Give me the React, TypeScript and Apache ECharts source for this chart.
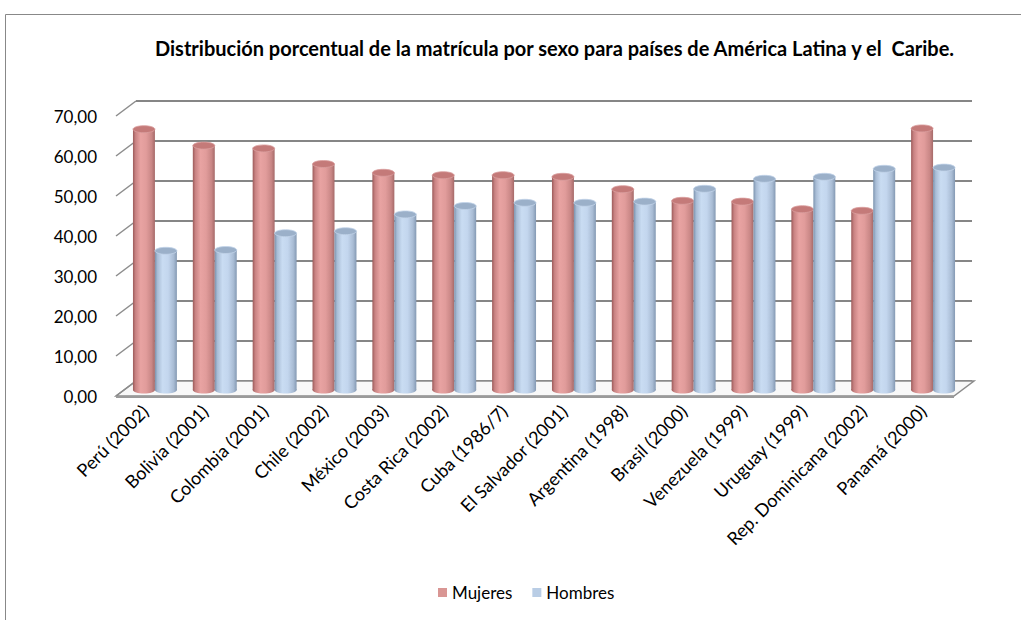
import React, { useEffect, useRef } from "react";
import * as echarts from "echarts";

const categories = [
  "Perú (2002)",
  "Bolivia (2001)",
  "Colombia (2001)",
  "Chile (2002)",
  "México (2003)",
  "Costa Rica (2002)",
  "Cuba (1986/7)",
  "El Salvador (2001)",
  "Argentina (1998)",
  "Brasil (2000)",
  "Venezuela (1999)",
  "Uruguay (1999)",
  "Rep. Dominicana (2002)",
  "Panamá (2000)",
];
const mujeres = [65.2, 61.1, 60.4, 56.5, 54.3, 53.7, 53.7, 53.3, 50.2, 47.3, 47.1, 45.2, 44.8, 65.4];
const hombres = [34.8, 35.0, 39.2, 39.7, 43.9, 46.0, 46.8, 46.8, 47.1, 50.3, 52.8, 53.3, 55.3, 55.6];
const yTicks = [0, 10, 20, 30, 40, 50, 60, 70];

const FONT = "Lato, 'Open Sans', sans-serif";
const DEPTH_X = -20;
const DEPTH_Y = 15;

function grad(stops: [number, string][]) {
  return {
    type: "linear",
    x: 0,
    y: 0,
    x2: 1,
    y2: 0,
    colorStops: stops.map(([offset, color]) => ({ offset, color })),
  };
}

const palettes = {
  m: {
    body: [
      [0, "#9c5b5a"],
      [0.12, "#c98383"],
      [0.35, "#e8a3a2"],
      [0.6, "#e19c9b"],
      [0.85, "#c98786"],
      [1, "#a66a69"],
    ] as [number, string][],
    top: "#c47a79",
    topStroke: "#dba09f",
  },
  h: {
    body: [
      [0, "#7b93ae"],
      [0.12, "#a9bdd6"],
      [0.35, "#c9dcf2"],
      [0.6, "#c3d6ee"],
      [0.85, "#a9bcd4"],
      [1, "#8499b3"],
    ] as [number, string][],
    top: "#9bb0c9",
    topStroke: "#c3d4ea",
  },
};

function makeBarRender(side: number, pal: typeof palettes.m) {
  return (params: any, api: any) => {
    const idx = api.value(0);
    const v = api.value(1);
    const top = api.coord([idx, v]);
    const base = api.coord([idx, 0]);
    const band = api.size([1, 0])[0];
    const w = band * 0.367;
    const cx = top[0] + side * (w / 2);
    const ry = 3.5;
    const fill = grad(pal.body);
    return {
      type: "group",
      children: [
        {
          type: "ellipse",
          shape: { cx, cy: base[1], rx: w / 2, ry },
          style: { fill },
        },
        {
          type: "rect",
          shape: { x: cx - w / 2, y: top[1], width: w, height: base[1] - top[1] },
          style: { fill },
        },
        {
          type: "ellipse",
          shape: { cx, cy: top[1], rx: w / 2, ry },
          style: { fill: pal.top, stroke: pal.topStroke, lineWidth: 0.8 },
        },
      ],
    };
  };
}

function wallRender(params: any, api: any) {
  const v = api.value(1);
  const cs = params.coordSys;
  const p = api.coord([0, v]);
  const x0 = cs.x;
  const y = p[1];
  const children: any[] = [
    {
      type: "line",
      shape: { x1: x0, y1: y, x2: x0 + DEPTH_X, y2: y + DEPTH_Y },
      style: { stroke: "#8c8c8c", lineWidth: 1.5 },
    },
  ];
  if (v === 0) {
    const x1 = cs.x + cs.width;
    children.unshift({
      type: "polygon",
      shape: {
        points: [
          [x0, y],
          [x1 + 2, y],
          [x1 + 2 + DEPTH_X, y + DEPTH_Y],
          [x0 + DEPTH_X, y + DEPTH_Y],
        ],
      },
      style: { fill: "#f8f8f8", stroke: "#8c8c8c", lineWidth: 1.5 },
    });
    children.push({
      type: "line",
      shape: { x1: x0 + DEPTH_X, y1: y + DEPTH_Y + 1, x2: x1 + 2 + DEPTH_X, y2: y + DEPTH_Y + 1 },
      style: { stroke: "#9a9a9a", lineWidth: 2 },
    });
  }
  return { type: "group", children };
}

export default function App() {
  const ref = useRef<HTMLDivElement>(null);
  useEffect(() => {
    if (!ref.current) return;
    const chart = echarts.init(ref.current, undefined, { renderer: "svg" });
    const fmt = (v: number) => v.toFixed(2).replace(".", ",");
    chart.setOption({
      animation: false,
      backgroundColor: "#ffffff",
      title: {
        text: "Distribución porcentual de la matrícula por sexo para países de América Latina y el  Caribe.",
        left: 150,
        top: 33,
        textStyle: { fontFamily: FONT, fontSize: 20, fontWeight: "bold", color: "#000" },
      },
      legend: {
        left: 433,
        top: 579,
        icon: "rect",
        itemWidth: 9,
        itemHeight: 9,
        itemGap: 20,
        textStyle: { fontFamily: FONT, fontSize: 17, color: "#000" },
        data: ["Mujeres", "Hombres"],
      },
      graphic: [
        {
          type: "rect",
          shape: { x: 5.5, y: 14.5, width: 1200, height: 800 },
          style: { fill: "none", stroke: "#888888", lineWidth: 1 },
          silent: true,
        },
      ],
      grid: [
        { left: 136, top: 101, width: 836, height: 280 },
        { left: 125, top: 110, width: 838, height: 280 },
        { left: 115, top: 116, width: 838, height: 280 },
      ],
      xAxis: [
        { gridIndex: 0, type: "category", data: categories, show: false },
        { gridIndex: 1, type: "category", data: categories, show: false },
        {
          gridIndex: 2,
          type: "category",
          data: categories,
          axisLine: { show: false },
          axisTick: { show: false },
          axisLabel: {
            rotate: 45,
            interval: 0,
            margin: 12,
            fontFamily: FONT,
            fontSize: 18,
            color: "#000",
          },
        },
      ],
      yAxis: [
        {
          gridIndex: 0,
          type: "value",
          min: 0,
          max: 70,
          interval: 10,
          axisLabel: { show: false },
          axisLine: { show: false },
          axisTick: { show: false },
          splitLine: { lineStyle: { color: "#868686", width: 2 } },
        },
        {
          gridIndex: 1,
          type: "value",
          min: 0,
          max: 70,
          interval: 10,
          show: false,
          splitLine: { show: false },
        },
        {
          gridIndex: 2,
          type: "value",
          min: 0,
          max: 70,
          interval: 10,
          axisLine: { show: false },
          axisTick: { show: false },
          splitLine: { show: false },
          axisLabel: {
            margin: 18,
            fontFamily: FONT,
            fontSize: 17,
            color: "#000",
            formatter: fmt,
          },
        },
      ],
      series: [
        {
          type: "custom",
          name: "wall",
          xAxisIndex: 0,
          yAxisIndex: 0,
          z: 1,
          silent: true,
          renderItem: wallRender,
          data: yTicks.map((t) => [0, t]),
          encode: { x: 0, y: 1 },
        },
        {
          type: "custom",
          name: "Mujeres",
          xAxisIndex: 1,
          yAxisIndex: 1,
          z: 3,
          itemStyle: { color: "#d99694" },
          renderItem: makeBarRender(-1, palettes.m),
          data: mujeres.map((v, i) => [i, v]),
          encode: { x: 0, y: 1 },
        },
        {
          type: "custom",
          name: "Hombres",
          xAxisIndex: 1,
          yAxisIndex: 1,
          z: 3,
          itemStyle: { color: "#b9cde5" },
          renderItem: makeBarRender(1, palettes.h),
          data: hombres.map((v, i) => [i, v]),
          encode: { x: 0, y: 1 },
        },
      ],
    });
    return () => chart.dispose();
  }, []);
  return (
    <div
      ref={ref}
      style={{ position: "fixed", left: 0, top: 0, width: 1021, height: 620 }}
    />
  );
}
